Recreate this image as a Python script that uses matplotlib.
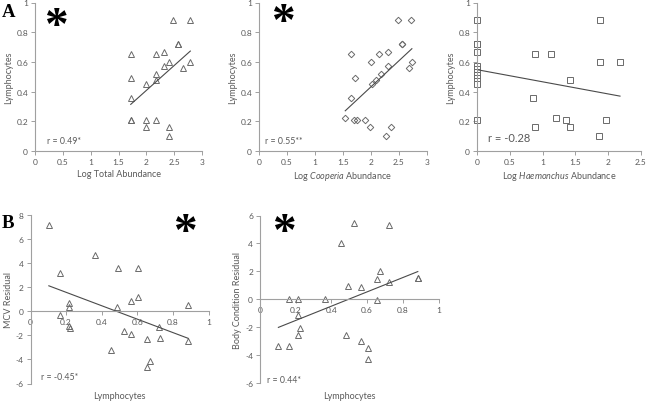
import numpy as np
import matplotlib
matplotlib.use("Agg")
import matplotlib.pyplot as plt
from matplotlib.ticker import FuncFormatter

plt.rcParams['font.family'] = ['Lato', 'DejaVu Sans']
plt.rcParams['mathtext.fontset'] = 'custom'
plt.rcParams['mathtext.rm'] = 'Lato'
plt.rcParams['mathtext.it'] = 'Lato:italic'

# ---- data ----
tot_x = [2.48, 2.79, 2.56, 2.56, 1.72, 2.18, 2.31, 2.41, 2.79, 2.31, 2.65, 2.18,
         1.72, 2.18, 2.00, 1.72, 1.72, 1.72, 2.00, 2.18, 2.00, 2.41, 2.41]
tot_y = [0.88, 0.88, 0.72, 0.72, 0.65, 0.65, 0.67, 0.60, 0.60, 0.57, 0.56, 0.52,
         0.49, 0.48, 0.45, 0.36, 0.21, 0.21, 0.21, 0.21, 0.16, 0.16, 0.10]

coop_x = [2.48, 2.72, 2.55, 2.55, 1.64, 2.15, 2.31, 2.00, 2.73, 2.31, 2.67, 2.18,
          1.71, 2.09, 2.01, 1.64, 1.54, 1.70, 1.745, 1.89, 1.98, 2.35, 2.26]
coop_y = [0.88, 0.88, 0.72, 0.72, 0.65, 0.65, 0.67, 0.60, 0.60, 0.57, 0.56, 0.52,
          0.49, 0.48, 0.45, 0.36, 0.22, 0.21, 0.21, 0.21, 0.16, 0.16, 0.10]

haem_x = [0, 0, 0, 0, 0, 0, 0, 0, 0, 0, 0.89, 1.13, 0.855, 0.88, 1.21, 1.36,
          1.415, 1.415, 1.88, 1.88, 2.18, 1.97, 1.86]
haem_y = [0.88, 0.72, 0.72, 0.67, 0.57, 0.55, 0.51, 0.49, 0.45, 0.21, 0.65, 0.65,
          0.36, 0.16, 0.22, 0.21, 0.48, 0.16, 0.88, 0.60, 0.60, 0.21, 0.10]

mcv_x = [0.103, 0.364, 0.164, 0.493, 0.606, 0.215, 0.215, 0.484, 0.564, 0.606,
         0.886, 0.164, 0.215, 0.222, 0.523, 0.566, 0.723, 0.656, 0.725, 0.886,
         0.454, 0.673, 0.656]
mcv_y = [7.18, 4.64, 3.18, 3.62, 3.59, 0.69, 0.36, 0.39, 0.83, 1.19, 0.55, -0.28,
         -1.22, -1.35, -1.63, -1.85, -1.27, -2.29, -2.24, -2.51, -3.20, -4.12, -4.59]

bc_x = [0.525, 0.725, 0.456, 0.675, 0.656, 0.884, 0.884, 0.725, 0.493, 0.566,
        0.164, 0.215, 0.364, 0.656, 0.215, 0.222, 0.215, 0.103, 0.164, 0.484,
        0.568, 0.606, 0.606]
bc_y = [5.43, 5.29, 4.02, 2.03, 1.46, 1.53, 1.53, 1.27, 0.96, 0.91, 0.02, 0.02,
        0.0, -0.02, -1.12, -2.06, -2.56, -3.33, -3.33, -2.56, -3.01, -3.49, -4.28]

r_labels = ["r = 0.49*", "r = 0.55**", "r = -0.28", "r = -0.45*", "r = 0.44*"]

W, H = 651, 402
fig = plt.figure(figsize=(W / 100, H / 100), dpi=100)

def px_axes(x0, x1, ytop, ybot):
    return fig.add_axes([x0 / W, 1 - ybot / H, (x1 - x0) / W, (ybot - ytop) / H])

txt = '#595959'
spine = '#a0a0a0'
mk = '#6a6a6a'
fmt = FuncFormatter(lambda v, p: f"{v:g}")

def style(ax, xlim, ylim, xstep, ystep, zero_axis=False):
    ax.set_xlim(*xlim)
    ax.set_ylim(*ylim)
    ax.set_xticks(np.arange(xlim[0], xlim[1] + 1e-9, xstep))
    ax.set_yticks(np.arange(ylim[0], ylim[1] + 1e-9, ystep))
    ax.xaxis.set_major_formatter(fmt)
    ax.yaxis.set_major_formatter(fmt)
    for s in ['top', 'right']:
        ax.spines[s].set_visible(False)
    for s in ['left', 'bottom']:
        ax.spines[s].set_color(spine)
        ax.spines[s].set_linewidth(0.8)
    if zero_axis:
        ax.spines['bottom'].set_position(('data', 0))
    ax.tick_params(length=3, width=0.7, color=spine, labelsize=6, labelcolor=txt, pad=2)
    ax.patch.set_alpha(0)

def scatter_fit(ax, x, y, marker, ms):
    ax.plot(x, y, linestyle='none', marker=marker, ms=ms, mfc='none', mec=mk, mew=0.7,
            clip_on=False)
    x = np.asarray(x, float)
    y = np.asarray(y, float)
    k, b = np.polyfit(x, y, 1)
    xs = np.array([x.min(), x.max()])
    ax.plot(xs, k * xs + b, color='#4a4a4a', lw=0.8)

ax1 = px_axes(35, 202, 3.5, 152)
ax2 = px_axes(259, 427, 3.5, 152)
ax3 = px_axes(477, 641, 3.5, 152)
ax4 = px_axes(30.5, 208.5, 216, 384.5)
ax5 = px_axes(260, 438.5, 216.5, 384)

scatter_fit(ax1, tot_x, tot_y, '^', 4.6)
style(ax1, (0, 3), (0, 1), 0.5, 0.2)
ax1.set_xlabel("Log Total Abundance", fontsize=6.5, color=txt, labelpad=3)

scatter_fit(ax2, coop_x, coop_y, 'D', 3.3)
style(ax2, (0, 3), (0, 1), 0.5, 0.2)
ax2.set_xlabel(r"Log $\mathit{Cooperia}$ Abundance", fontsize=6.5, color=txt, labelpad=3)

scatter_fit(ax3, haem_x, haem_y, 's', 3.8)
style(ax3, (0, 2.5), (0, 1), 0.5, 0.2)
ax3.set_xlabel(r"Log $\mathit{Haemonchus}$ Abundance", fontsize=6.5, color=txt, labelpad=3)

for ax in (ax1, ax2, ax3):
    ax.set_ylabel("Lymphocytes", fontsize=6.5, color=txt, labelpad=2)

scatter_fit(ax4, mcv_x, mcv_y, '^', 4.6)
style(ax4, (0, 1), (-6, 8), 0.2, 2, zero_axis=True)
ax4.set_ylabel("MCV Residual", fontsize=6.5, color=txt, labelpad=2)

scatter_fit(ax5, bc_x, bc_y, '^', 4.6)
style(ax5, (0, 1), (-6, 6), 0.2, 2, zero_axis=True)
ax5.set_ylabel("Body Condition Residual", fontsize=6.5, color=txt, labelpad=2)

for ax in (ax4, ax5):
    ax.text(0.5, -0.045, "Lymphocytes", transform=ax.transAxes, ha='center', va='top',
            fontsize=6.5, color=txt)

# r values
def ptext(x, y, s, **kw):
    fig.text(x / W, 1 - y / H, s, **kw)

ptext(47, 141, r_labels[0], fontsize=6.3, color=txt, va='center')
ptext(265, 141, r_labels[1], fontsize=6.3, color=txt, va='center')
ptext(488, 138, r_labels[2], fontsize=8, color=txt, va='center')
ptext(41, 378, r_labels[3], fontsize=6.3, color=txt, va='center')
ptext(267, 381, r_labels[4], fontsize=6.3, color=txt, va='center')

# panel letters and significance stars
ptext(1.5, 17, "A", fontsize=13.5, fontweight='bold', family='Liberation Serif', va='baseline')
ptext(1.5, 228, "B", fontsize=13.5, fontweight='bold', family='Liberation Serif', va='baseline')
for (x, y) in [(56, 38.5), (283, 35.5), (185, 245), (284, 245)]:
    ptext(x, y, "*", fontsize=34, fontweight='bold', family='Liberation Serif',
          ha='center', va='baseline')

fig.savefig("out.png", dpi=100)
